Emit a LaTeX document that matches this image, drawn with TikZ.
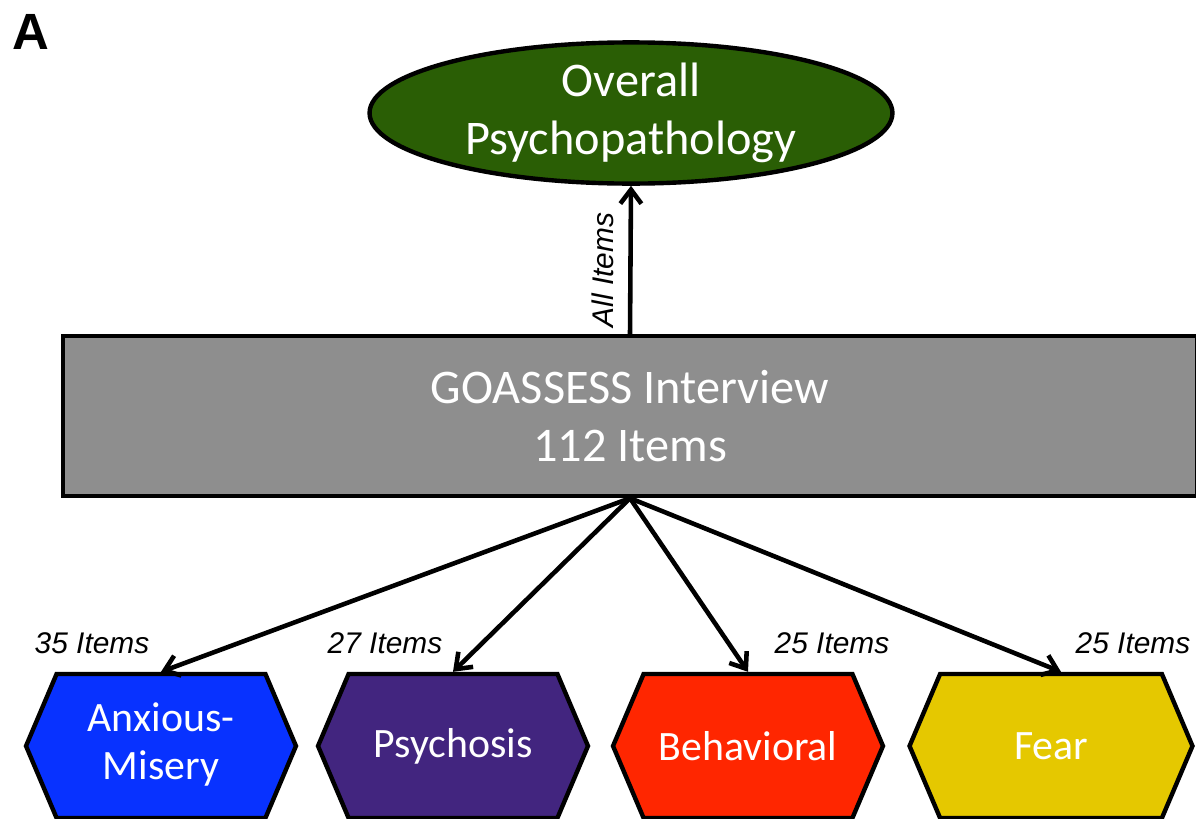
\documentclass[tikz,border=0pt]{standalone}
\usepackage{fontspec}
\setmainfont{Carlito}
\newfontfamily\arialfont{Liberation Sans}
\usetikzlibrary{shapes.geometric,shapes.symbols,arrows.meta}
\definecolor{overallgreen}{RGB}{42,94,5}
\definecolor{interviewgray}{RGB}{142,142,142}
\definecolor{anxblue}{RGB}{8,50,255}
\definecolor{psypurple}{RGB}{66,37,127}
\definecolor{behred}{RGB}{255,38,0}
\definecolor{fearyellow}{RGB}{229,200,0}

\begin{document}
\begin{tikzpicture}[x=0.02cm,y=-0.02cm,
		hexbox/.style={draw, line width=2.5pt, signal, signal to=west and east, signal pointer angle=134, minimum width=5.4cm, minimum height=2.88cm, inner sep=0pt, text=white, align=center, font=\fontsize{23.8}{27.5}\selectfont},
		itemlabel/.style={font=\arialfont\itshape\fontsize{17}{20}\selectfont},
		link/.style={-{Straight Barb[length=8pt,width=12pt]}, line width=2.6pt}]
				\useasboundingbox (0,0) rectangle (1196,818);
				\node (panel) at (31,32) {\arialfont\bfseries\fontsize{29}{30}\selectfont A};
				\node (overall) [draw, ellipse, line width=2.5pt, fill=overallgreen, text=white, align=center, minimum width=10.46cm, minimum height=2.34cm, inner sep=0pt, font=\fontsize{27.5}{33}\selectfont] at (631,113) {Overall\\Psychopathology};
				\node (interview) [draw, rectangle, line width=2.5pt, fill=interviewgray, text=white, align=center, minimum width=22.68cm, minimum height=3.2cm, font=\fontsize{27.5}{33}\selectfont] at (630,416) {GOASSESS Interview\\112 Items};
				\node (anx) [hexbox, fill=anxblue] at (161,746) {\raisebox{-4pt}{\begin{tabular}{@{}c@{}}Anxious-\\Misery\end{tabular}}};
				\node (psy) [hexbox, fill=psypurple] at (453,746) {\raisebox{-3pt}{Psychosis}};
				\node (beh) [hexbox, fill=behred] at (748,746) {Behavioral};
				\node (fear) [hexbox, fill=fearyellow, minimum width=5.66cm] at (1051,746) {Fear};
				
				% Labels
				\node (allitems) [itemlabel, rotate=90] at (603,270) {All Items};
				\node (anxitems) [itemlabel] at (92,643) {35 Items};
				\node (psyitems) [itemlabel] at (385,643) {27 Items};
				\node (behitems) [itemlabel] at (832,643) {25 Items};
				\node (fearitems) [itemlabel] at (1133,643) {25 Items};
				
				% Arrows
				\draw[link] (interview.north) -- (overall.south);
				\draw[link] (interview.south) -- (anx.north);
				\draw[link] (interview.south) -- (psy.north);
				\draw[link] (interview.south) -- (beh.north);
				\draw[link] (interview.south) -- ([xshift=0.2cm]fear.north);
				
			\end{tikzpicture}
\end{document}
